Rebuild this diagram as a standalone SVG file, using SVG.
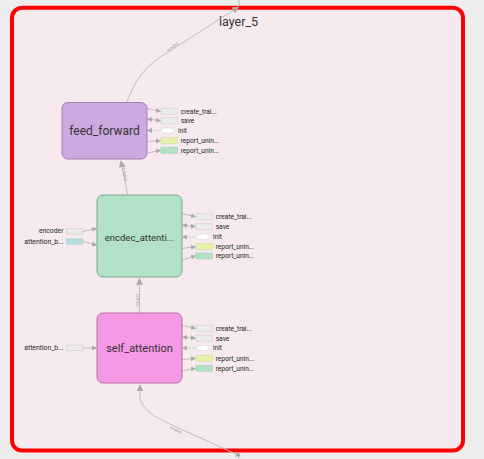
<svg xmlns="http://www.w3.org/2000/svg" width="484" height="459" viewBox="0 0 484 459">
  <style>
    .lbl { font-family: Roboto, "Liberation Sans", sans-serif; fill: #333; }
    .node-title { font-size: 12px; text-anchor: middle; dominant-baseline: central; }
    .aux { font-size: 6.6px; fill: #222; }
    .aux-left { font-size: 6.8px; fill: #222; text-anchor: end; }
    .edge { fill: none; stroke: #bdbdbd; stroke-width: 1; }
    .edge-ctl { fill: none; stroke: #bdbdbd; stroke-width: 1; stroke-dasharray: 1.5 1.5; }
    .tiny { font-family: Roboto, "Liberation Sans", sans-serif; font-size: 3.6px; fill: #777; }
    .box-grey { fill: #ececec; stroke: #bdbdbd; stroke-width: 0.7; stroke-dasharray: 1.2 1; }
    .box-yellow { fill: #e6f2a8; stroke: #c2cf86; stroke-width: 0.7; stroke-dasharray: 1.2 1; }
    .box-green { fill: #b0e2c4; stroke: #8cc4a4; stroke-width: 0.7; stroke-dasharray: 1.2 1; }
    .box-blue { fill: #b2dfe0; stroke: #8cc0c2; stroke-width: 0.7; stroke-dasharray: 1.2 1; }
    .box-init { fill: #ffffff; stroke: #c8c8c8; stroke-width: 0.7; stroke-dasharray: 1.2 1; }
  </style>
  <defs>
    <marker id="arr" viewBox="0 0 10 10" refX="9" refY="5" markerWidth="5" markerHeight="5" markerUnits="userSpaceOnUse" orient="auto-start-reverse">
      <path d="M0,0 L10,5 L0,10 z" fill="#a9a9a9"/>
    </marker>
    <marker id="arrBig" viewBox="0 0 10 10" refX="9" refY="5" markerWidth="7" markerHeight="7" markerUnits="userSpaceOnUse" orient="auto-start-reverse">
      <path d="M0,0 L10,5 L0,10 z" fill="#a9a9a9"/>
    </marker>
  </defs>

  <!-- page background -->
  <rect x="0" y="0" width="484" height="459" fill="#ededed"/>

  <!-- expanded scope: layer_5 -->
  <g id="layer_5">
    <rect x="12" y="7.8" width="451" height="442.7" rx="10" ry="10" fill="#f6eaee" stroke="#ff0000" stroke-width="4"/>
    <rect x="453" y="14.5" width="6" height="1.4" fill="#ffffff"/>
    <text class="lbl" x="238.5" y="26" font-size="12.5" text-anchor="middle">layer_5</text>
  </g>

  <!-- connectors -->
  <g id="edges">
    <!-- scope output leaving through the top -->
    <path class="edge" d="M127,102 C132,88 140,70 162,56 L238.5,7" marker-end="url(#arrBig)"/>
    <line class="edge" x1="239" y1="0" x2="239" y2="6"/>
    <text class="tiny" transform="translate(168,52) rotate(-36)">?×?×512</text>

    <!-- scope input entering from the bottom -->
    <path class="edge" d="M239,459 L238,455 L172,425 C150,415 140,407 140,395 L140,385" marker-end="url(#arrBig)"/>
    <path d="M238,452 L235,456.5 L241,456.5 z" fill="#a9a9a9"/>
    <text class="tiny" transform="translate(169,428.5) rotate(24)">?×?×512</text>

    <!-- encdec_attention -> feed_forward -->
    <path class="edge" d="M127.5,194 L121,161" marker-end="url(#arrBig)"/>
    <text class="tiny" transform="translate(122,168) rotate(79)">?×?×512</text>

    <!-- self_attention -> encdec_attention -->
    <path class="edge" d="M139.5,313 L139.5,278.5" marker-end="url(#arrBig)"/>
    <text class="tiny" transform="translate(138.5,307) rotate(-90)">?×?×512</text>

    <!-- feed_forward auxiliaries -->
    <path class="edge" d="M147,108.5 L160.5,111.3" marker-end="url(#arr)"/>
    <path class="edge" d="M147.5,119 L160.5,120.7" marker-start="url(#arr)" marker-end="url(#arr)"/>
    <path class="edge-ctl" d="M147.5,130.5 L160.5,130.5" marker-start="url(#arr)"/>
    <path class="edge" d="M147,141.5 L160.5,140.7" marker-end="url(#arr)"/>
    <path class="edge" d="M147,153 L160.5,150.3" marker-end="url(#arr)"/>

    <!-- encdec_attention auxiliaries -->
    <path class="edge" d="M182,213.5 L195.5,216.7" marker-end="url(#arr)"/>
    <path class="edge" d="M182.5,225 L195.5,226.7" marker-start="url(#arr)" marker-end="url(#arr)"/>
    <path class="edge-ctl" d="M182.5,237 L195.5,237" marker-start="url(#arr)"/>
    <path class="edge" d="M182,248.5 L195.5,246.7" marker-end="url(#arr)"/>
    <path class="edge" d="M182,260 L195.5,256" marker-end="url(#arr)"/>
    <path class="edge" d="M83,231.5 L96.5,228.5" marker-end="url(#arr)"/>
    <path class="edge" d="M83,241.5 L96.5,245" marker-end="url(#arr)"/>

    <!-- self_attention auxiliaries -->
    <path class="edge" d="M182,325.5 L195.5,328.3" marker-end="url(#arr)"/>
    <path class="edge" d="M182.5,337 L195.5,338.3" marker-start="url(#arr)" marker-end="url(#arr)"/>
    <path class="edge-ctl" d="M182.5,348 L195.5,348" marker-start="url(#arr)"/>
    <path class="edge" d="M182,359.5 L195.5,358.3" marker-end="url(#arr)"/>
    <path class="edge" d="M182,371 L195.5,368.3" marker-end="url(#arr)"/>
    <path class="edge" d="M83,348 L96.5,348" marker-end="url(#arr)"/>
  </g>

  <!-- feed_forward -->
  <g id="feed_forward">
    <rect x="62" y="102.5" width="85" height="56.5" rx="6" fill="#cda9e2" stroke="#9e7db2" stroke-width="1"/>
    <text class="lbl node-title" x="104.5" y="131">feed_forward</text>
    <rect class="box-grey" x="161" y="108.3" width="16.5" height="6"/>
    <text class="lbl aux" x="180.7" y="113.6">create_trai...</text>
    <rect class="box-grey" x="161" y="117.7" width="16.5" height="6"/>
    <text class="lbl aux" x="180.7" y="123">save</text>
    <ellipse class="box-init" cx="167.5" cy="130.5" rx="6.7" ry="2.8"/>
    <text class="lbl aux" x="178" y="132.8">init</text>
    <rect class="box-yellow" x="161" y="137.7" width="16.5" height="6"/>
    <text class="lbl aux" x="180.7" y="143">report_unin...</text>
    <rect class="box-green" x="161" y="147.3" width="16.5" height="6"/>
    <text class="lbl aux" x="180.7" y="152.6">report_unin...</text>
  </g>

  <!-- encdec_attention -->
  <g id="encdec_attention">
    <rect x="97" y="195" width="85" height="82" rx="6" fill="#b1e2c6" stroke="#7fa88f" stroke-width="1"/>
    <text class="lbl node-title" x="139.5" y="237" style="font-size:9.5px">encdec_attenti...</text>
    <rect class="box-grey" x="196" y="213.7" width="16.5" height="6"/>
    <text class="lbl aux" x="215.7" y="219">create_trai...</text>
    <rect class="box-grey" x="196" y="223.7" width="16.5" height="6"/>
    <text class="lbl aux" x="215.7" y="229">save</text>
    <ellipse class="box-init" cx="202.8" cy="237" rx="6.8" ry="2.7"/>
    <text class="lbl aux" x="213" y="239.2">init</text>
    <rect class="box-yellow" x="196" y="243.7" width="16.5" height="6"/>
    <text class="lbl aux" x="215.7" y="249">report_unin...</text>
    <rect class="box-green" x="196" y="253" width="16.5" height="6"/>
    <text class="lbl aux" x="215.7" y="258.3">report_unin...</text>
    <rect class="box-grey" x="66.7" y="228.7" width="16" height="5.4"/>
    <text class="lbl aux-left" x="63.5" y="233.4">encoder</text>
    <rect class="box-blue" x="66.7" y="238.8" width="16" height="5.4"/>
    <text class="lbl aux-left" x="63.5" y="243.5">attention_b...</text>
  </g>

  <!-- self_attention -->
  <g id="self_attention">
    <rect x="97" y="313" width="85" height="70" rx="6" fill="#f598e5" stroke="#b5709f" stroke-width="1"/>
    <text class="lbl node-title" x="139.5" y="348" style="font-size:11px">self_attention</text>
    <rect class="box-grey" x="196" y="325.3" width="16.5" height="6"/>
    <text class="lbl aux" x="215.7" y="330.6">create_trai...</text>
    <rect class="box-grey" x="196" y="335.3" width="16.5" height="6"/>
    <text class="lbl aux" x="215.7" y="340.6">save</text>
    <ellipse class="box-init" cx="202.8" cy="348" rx="6.8" ry="2.7"/>
    <text class="lbl aux" x="213" y="350.2">init</text>
    <rect class="box-yellow" x="196" y="355.3" width="16.5" height="6"/>
    <text class="lbl aux" x="215.7" y="360.6">report_unin...</text>
    <rect class="box-green" x="196" y="365.3" width="16.5" height="6"/>
    <text class="lbl aux" x="215.7" y="370.6">report_unin...</text>
    <rect class="box-grey" x="66.7" y="345" width="16" height="5.6"/>
    <text class="lbl aux-left" x="63.5" y="349.6">attention_b...</text>
  </g>
</svg>
